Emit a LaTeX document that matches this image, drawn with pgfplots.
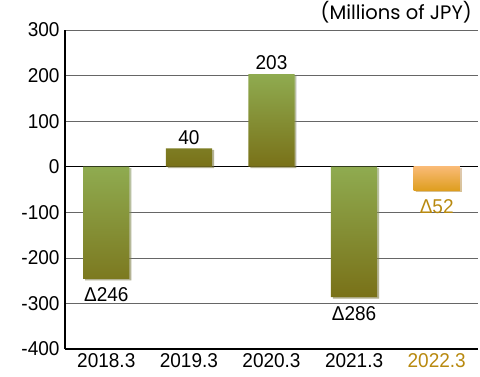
\documentclass[border=0pt]{standalone}
\usepackage{fontspec}
\setmainfont[FakeStretch=0.95]{Liberation Sans}
\newfontfamily\titlefont{Poppins}
\usepackage{pgfplots}
\pgfplotsset{compat=1.18}
\usetikzlibrary{shadows}
\definecolor{gtop}{HTML}{8FAB50}
\definecolor{gbot}{HTML}{797118}
\definecolor{otop}{HTML}{F9BA75}
\definecolor{obot}{HTML}{DE9E1E}
\definecolor{gold}{HTML}{B8890F}
\begin{document}
\begin{tikzpicture}
\useasboundingbox (-65pt,-27pt) rectangle (415pt,349pt);
\begin{axis}[
  scale only axis,
  width=413pt, height=319pt,
  xmin=-0.5, xmax=4.5,
  ymin=-400, ymax=300,
  ytick={-400,-300,...,300},
  xtick={0,1,2,3,4},
  xticklabels={2018.3,2019.3,2020.3,2021.3,\textcolor{gold}{2022.3}},
  axis x line*=bottom, axis y line*=left,
  axis line style={-, black, line width=1.3pt},
  major tick length=0pt,
  ymajorgrids,
  grid style={gray!80!black, line width=0.6pt},
  extra y ticks={0},
  extra y tick labels={},
  extra y tick style={grid style={black, line width=1.3pt}},
  ticklabel style={font=\fontsize{20}{24}\selectfont},
  /pgf/number format/assume math mode=true,
  yticklabel style={xshift=-2pt},
  xticklabel style={yshift=-1pt},
  ybar, bar width=0.56, bar shift=0pt,
  nodes near coords,
  point meta=explicit symbolic,
  every node near coord/.append style={font=\fontsize{20}{24}\selectfont, inner sep=3pt},
  clip=false,
]
% negative green bars
\addplot[draw=none, top color=gtop, bottom color=gbot,
  drop shadow={shadow xshift=2pt, shadow yshift=-1.5pt, opacity=0.35, fill=gray},
  every node near coord/.append style={anchor=north, yshift=-6pt}]
 table[meta=lab] {
x y lab
0 -246 Δ246
3 -286 Δ286
};
% positive green bars
\addplot[draw=none, top color=gtop, bottom color=gbot,
  drop shadow={shadow xshift=2pt, shadow yshift=-1.5pt, opacity=0.35, fill=gray},
  every node near coord/.append style={anchor=south, yshift=1pt}]
 table[meta=lab] {
x y lab
1 40 40
2 203 203
};
% forecast bar
\addplot[draw=none, top color=otop, bottom color=obot,
  drop shadow={shadow xshift=2pt, shadow yshift=-1.5pt, opacity=0.35, fill=gray},
  every node near coord/.append style={anchor=north, yshift=-6pt, text=gold}]
 table[meta=lab] {
x y lab
4 -52 Δ52
};
\node[anchor=south east, inner sep=0pt, font=\titlefont\fontsize{19.5}{23}\selectfont]
  at ([xshift=-6pt, yshift=7pt]rel axis cs:1,1) {(Millions of JPY)};
\end{axis}
\end{tikzpicture}
\end{document}
